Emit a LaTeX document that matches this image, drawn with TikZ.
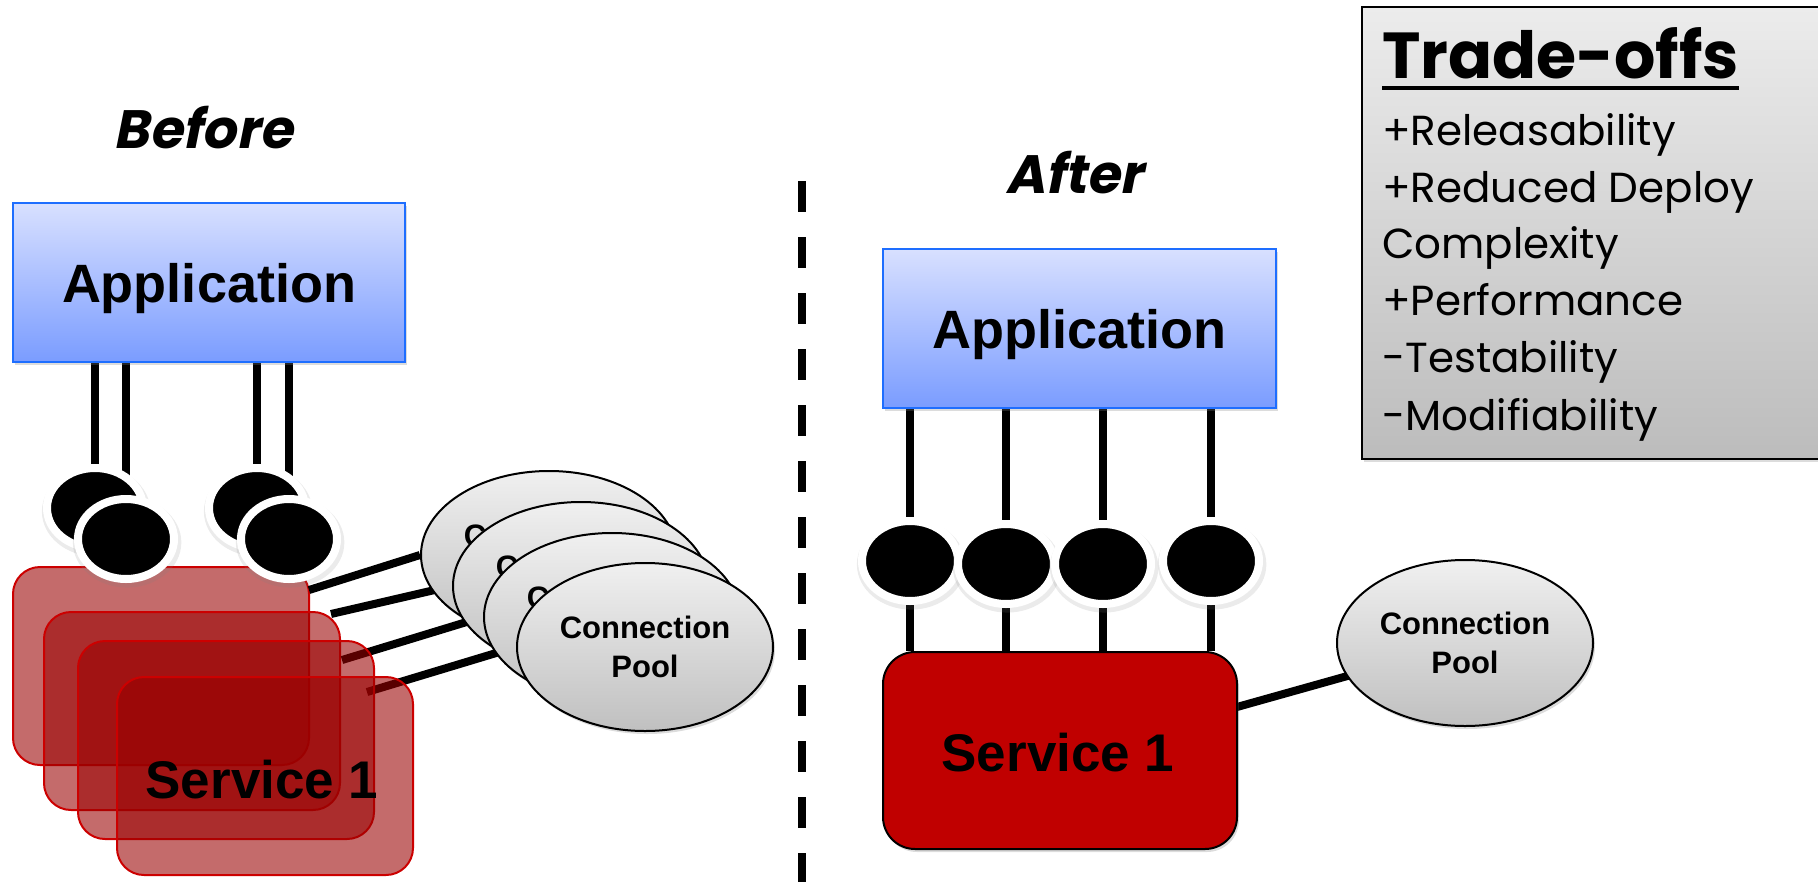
\documentclass[tikz,border=0pt]{standalone}
\usepackage{fontspec}
\setmainfont{Liberation Sans}
\newfontfamily\hand{Poppins}
\newfontfamily\handsl{Poppins}[FakeSlant=0.2]
\usetikzlibrary{shapes.geometric,shadows,calc}
\pgfdeclarelayer{bg}
\pgfsetlayers{bg,main}

\definecolor{appTop}{RGB}{216,224,255}
\definecolor{appBot}{RGB}{122,156,255}
\definecolor{appEdge}{RGB}{30,110,255}
\definecolor{svcRed}{RGB}{192,0,0}
\definecolor{ghostRed}{RGB}{153,0,0}
\definecolor{ghostEdge}{RGB}{204,0,0}
\definecolor{poolTop}{RGB}{240,240,240}
\definecolor{poolBot}{RGB}{192,192,192}
\definecolor{boxTop}{RGB}{236,236,236}
\definecolor{boxBot}{RGB}{188,188,188}

\begin{document}
\begin{tikzpicture}[x=1pt,y=-1pt,
  softshadow/.style={drop shadow={shadow xshift=2pt, shadow yshift=-3pt, opacity=0.28}},
  appbox/.style={rectangle, draw=appEdge, line width=2pt, top color=appTop, bottom color=appBot,
    minimum width=392pt, minimum height=159pt, inner sep=0pt, text depth=0pt,
    font=\fontsize{54}{60}\selectfont\bfseries, softshadow},
  ghost/.style={rectangle, rounded corners=27pt, fill=ghostRed, fill opacity=0.58,
    draw=ghostEdge, line width=2pt, minimum width=296pt, minimum height=198pt, inner sep=0pt},
  svcbox/.style={rectangle, rounded corners=32pt, fill=svcRed, draw=black, line width=2pt,
    minimum width=354pt, minimum height=197pt, inner sep=0pt, softshadow},
  dot/.style={ellipse, fill=black, draw=white, line width=8pt, minimum width=96pt,
    minimum height=80pt, inner sep=0pt,
    drop shadow={shadow xshift=1pt, shadow yshift=-3pt, shadow scale=1.13, opacity=0.16}},
  pool/.style={ellipse, draw=black, line width=2pt, top color=poolTop, bottom color=poolBot,
    minimum width=256pt, minimum height=168pt, inner sep=0pt, align=center,
    font=\fontsize{31}{39}\selectfont\bfseries, softshadow},
  wire/.style={line width=8pt, black},
  svctext/.style={font=\fontsize{53}{60}\selectfont\bfseries, anchor=base, inner sep=0pt},
  phase/.style={font=\handsl\bfseries\fontsize{54}{60}\selectfont, anchor=base, inner sep=0pt},
  item/.style={font=\hand\fontsize{42}{50}\selectfont, anchor=base west, inner sep=0pt},
]
\useasboundingbox (0,0) rectangle (1818,881);

% ---------------- Before ----------------
\node[phase] (before) at (203,148) {Before};
\node[appbox] (app1) at (209,282.5) {Application};

\begin{pgfonlayer}{bg}
\node[ghost] (g1) at (161,666) {};
\node[ghost] (g2) at (192,711) {};
\end{pgfonlayer}
\node[ghost] (g3) at (226,740) {};
\node[ghost] (g4) at (265,776) {};

\node[dot] (b1) at (95,508) {};
\node[dot] (f1) at (126,539) {};
\node[dot] (b2) at (257,508) {};
\node[dot] (f2) at (289,539) {};

\node[pool] (p1) at (549,555) {Connection\\Pool};
\node[pool] (p2) at (581,586) {Connection\\Pool};
\node[pool] (p3) at (612,617) {Connection\\Pool};
\node[pool] (p4) at (645,647) {Connection\\Pool};

\node[svctext] (svc1text) at (262,798) {Service 1};

\coordinate (c1) at (309,590);
\coordinate (c2) at (331,614);
\coordinate (c3) at (342,660);
\coordinate (c4) at (367,692);

% ---------------- Divider ----------------
\coordinate (dtop) at (802,181);
\coordinate (dbot) at (802,895);
\draw[line width=8pt, dash pattern=on 31pt off 25pt] (dtop) -- (dbot);

% ---------------- After ----------------
\node[phase] (after) at (1074,193) {After};
\node[appbox, minimum width=393pt] (app2) at (1079.5,328.5) {Application};
\node[svcbox] (svc) at (1060,750.5) {};
\node[svctext] (svc2text) at (1058,771) {Service 1};

\node[dot] (d1) at (910,561) {};
\node[dot] (d2) at (1006,564) {};
\node[dot] (d3) at (1103,564) {};
\node[dot] (d4) at (1211,561) {};

\node[pool, minimum height=166pt] (p5) at (1465,643) {Connection\\Pool};
\coordinate (s1) at (1237,707);

% ---------------- Trade-offs ----------------
\node[rectangle, draw=black, line width=2pt, top color=boxTop, bottom color=boxBot,
  minimum width=468pt, minimum height=452pt, inner sep=0pt, softshadow] (tbox) at (1596,233) {};
\node[font=\hand\bfseries\fontsize{65}{68}\selectfont, anchor=base west, inner sep=0pt] (tt) at (1382,78) {Trade-offs};
\draw[line width=4pt] ($(tt.base west)+(0,10)$) -- ($(tt.base east)+(0,10)$);
\node[item] (t1) at (1382,145) {+Releasability};
\node[item] (t2) at (1382,202) {+Reduced Deploy};
\node[item] (t3) at (1382,258) {Complexity};
\node[item] (t4) at (1382,315) {+Performance};
\node[item] (t5) at (1382,372) {-Testability};
\node[item] (t6) at (1382,430) {-Modifiability};

% ---------------- Connectors ----------------
\begin{pgfonlayer}{bg}
  \draw[wire] (b1 |- app1.south) -- (b1.center);
  \draw[wire] (f1 |- app1.south) -- (f1.center);
  \draw[wire] (b2 |- app1.south) -- (b2.center);
  \draw[wire] (f2 |- app1.south) -- (f2.center);
  \draw[wire] (c1) -- (p1.west);
  \draw[wire] (c2) -- (p2.west);
  \draw[wire] (c3) -- (p3.west);
  \draw[wire] (c4) -- (p4.west);
  \draw[wire] (d1 |- app2.south) -- (d1 |- svc.north);
  \draw[wire] (d2 |- app2.south) -- (d2 |- svc.north);
  \draw[wire] (d3 |- app2.south) -- (d3 |- svc.north);
  \draw[wire] (d4 |- app2.south) -- (d4 |- svc.north);
  \draw[wire] (s1) -- (p5.center);
\end{pgfonlayer}
\end{tikzpicture}
\end{document}
